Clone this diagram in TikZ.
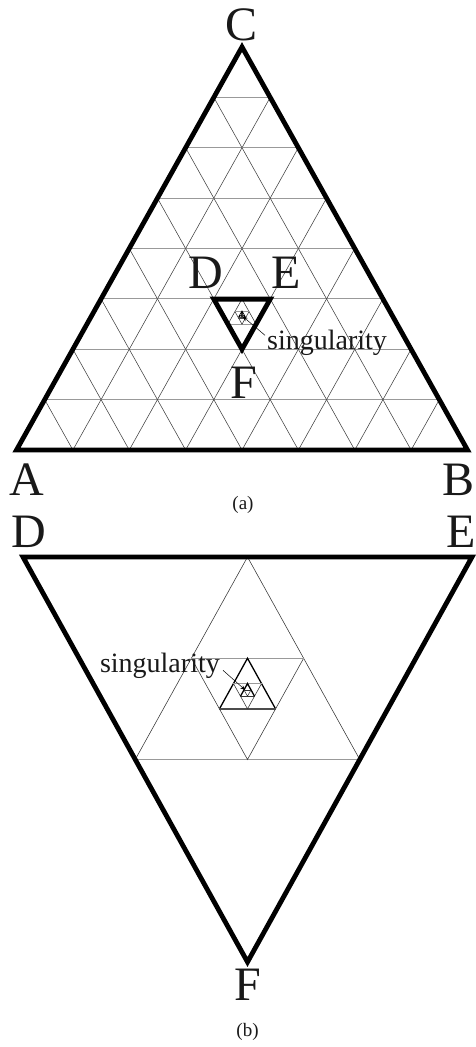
\documentclass[tikz,border=0pt]{standalone}
\usepackage{fontspec}
\setmainfont{Liberation Serif}
\usetikzlibrary{calc,arrows.meta}
\tikzset{
  thickline/.style={line width=4.8pt,black,line join=miter},
  gridslant/.style={line width=0.55pt,black!75},
  gridhoriz/.style={line width=0.9pt,black!40},
  thinslant/.style={line width=0.55pt,black!80},
  darkslant/.style={line width=1.3pt,black},
  darkhoriz/.style={line width=1.6pt,black!70},
  biglab/.style={inner sep=0pt,anchor=base,font=\fontsize{48}{48}\selectfont,text=black!90},
  caplab/.style={inner sep=0pt,anchor=base,font=\fontsize{19}{19}\selectfont,text=black!90},
  singlab/.style={inner sep=0pt,font=\fontsize{28}{28}\selectfont,text=black!90},
  leader/.style={line width=0.5pt,black,-{Stealth[length=5pt,width=4pt]}}
}
\newcommand\nesttri[3]{%
  \draw[#2] ({-224.5*(#1)},{-135*(#1)}) -- (0,{270*(#1)}) -- ({224.5*(#1)},{-135*(#1)});
  \draw[#3] ({-224.5*(#1)},{-135*(#1)}) -- ({224.5*(#1)},{-135*(#1)});
}
\newcommand\nestpattern{%
  \nesttri{-0.5}{thinslant}{gridhoriz}
  \nesttri{0.25}{thinslant}{gridhoriz}
  \nesttri{-0.125}{darkslant}{darkhoriz}
  \nesttri{0.0625}{thinslant}{gridhoriz}
  \nesttri{-0.03125}{darkslant}{thinslant}
  \nesttri{0.015625}{thinslant}{thinslant}
}
\begin{document}
\begin{tikzpicture}[x=1pt,y=-1pt]
\useasboundingbox (0,0) rectangle (476,1047);
% ---------- (a) ----------
\coordinate (A) at (16.5,450);
\coordinate (B) at (467.5,450);
\coordinate (C) at (242,47);
\foreach \k in {1,...,7} {
  \pgfmathsetmacro\t{\k/8}
  \draw[gridslant] ($(A)!\t!(B)$) -- ($(C)!\t!(B)$);
  \draw[gridslant] ($(A)!\t!(B)$) -- ($(A)!\t!(C)$);
  \draw[gridhoriz] ($(A)!\t!(C)$) -- ($(B)!\t!(C)$);
}
\coordinate (Da) at (213.8,299.1);
\coordinate (Ea) at (270.2,299.1);
\coordinate (Fa) at (242,349.25);
\coordinate (Ga) at (242,315.8);
\begin{scope}[shift={(Ga)},xscale=0.1256,yscale=0.1244]
  \nestpattern
\end{scope}
\draw[thickline] (A) -- (B) -- (C) -- cycle;
\draw[thickline] (Da) -- (Ea) -- (Fa) -- cycle;
\node[biglab] (labC) at (242,40) {C};
\node[biglab] (labA) at (26.5,495) {A};
\node[biglab] (labB) at (459,495) {B};
\node[biglab] (labDa) at (206,288) {D};
\node[biglab] (labEa) at (286.5,288) {E};
\node[biglab] (labFa) at (243.5,398) {F};
\node[singlab,anchor=base west] (singa) at (267,349) {singularity};
\draw[leader,shorten >=1pt] ([xshift=-2pt,yshift=7pt]singa.west) -- (Ga);
\node[caplab] (capa) at (243,509) {(a)};
% ---------- (b) ----------
\coordinate (D) at (23,557);
\coordinate (E) at (472,557);
\coordinate (F) at (247.5,962);
\coordinate (G) at (247.5,692);
\begin{scope}[shift={(G)}]
  \nestpattern
\end{scope}
\draw[thickline] (D) -- (E) -- (F) -- cycle;
\node[biglab] (labD) at (29,547) {D};
\node[biglab] (labE) at (461,547) {E};
\node[biglab] (labF) at (247.5,1000) {F};
\node[singlab,anchor=base east] (singb) at (220,672) {singularity};
\draw[leader,shorten >=3pt] ([xshift=3pt,yshift=-5pt]singb.east) -- (G);
\node[caplab] (capb) at (247.5,1036) {(b)};
\end{tikzpicture}
\end{document}
